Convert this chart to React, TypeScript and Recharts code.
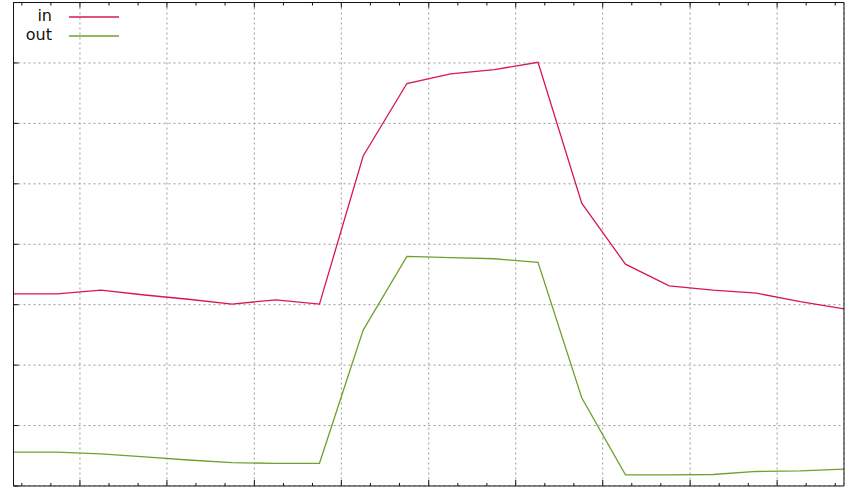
import { LineChart, Line, XAxis, YAxis, CartesianGrid } from "recharts";

// sample index along the x axis
const samples = [0, 1, 2, 3, 4, 5, 6, 7, 8, 9, 10, 11, 12, 13, 14, 15, 16, 17, 18, 19];

const inValues = [
  3.18, 3.18, 3.24, 3.16, 3.09, 3.01, 3.08, 3.01, 5.46, 6.66,
  6.82, 6.89, 7.01, 4.68, 3.67, 3.31, 3.24, 3.19, 3.05, 2.93,
];
const outValues = [
  0.56, 0.56, 0.53, 0.48, 0.43, 0.385, 0.375, 0.375, 2.58, 3.8,
  3.78, 3.76, 3.7, 1.46, 0.185, 0.185, 0.19, 0.24, 0.25, 0.28,
];

const majorTicks = [1.52, 3.51, 5.51, 7.5, 9.5, 11.49, 13.48, 15.48, 17.47];
const minorTicks = [
  0.19, 0.855, 2.185, 2.85, 4.175, 4.84, 6.175, 6.84, 8.165, 8.83,
  10.165, 10.83, 12.155, 12.82, 14.145, 14.81, 16.145, 16.81, 18.135, 18.8,
];
const yTicks = [0, 1, 2, 3, 4, 5, 6, 7, 8];

const IN_COLOR = "#d6194a";
const OUT_COLOR = "#6ea12e";
const FRAME = "#111";
const THIN = 0.01; // axes of size 0 are not drawn at all

const data = samples.map((x, i) => ({ x, in: inValues[i], out: outValues[i] }));

// inward tick marks, gnuplot style
function tickMark(dx: number, dy: number) {
  return (props: any) => {
    const { x, y } = props;
    return (
      <line x1={x} y1={y} x2={x + dx} y2={y + dy} stroke={FRAME} strokeWidth={1} />
    );
  };
}

export default function App() {
  return (
    <div style={{ position: "absolute", left: 0, top: 0, width: 854, height: 488, background: "#fff" }}>
      <LineChart
        width={854}
        height={488}
        data={data}
        margin={{ top: 2.5, right: 10, bottom: 2, left: 13.5 }}
      >
        <CartesianGrid
          xAxisId="major"
          yAxisId="left"
          stroke="#9a9a9a"
          strokeDasharray="2 3"
        />
        <XAxis
          xAxisId="major"
          dataKey="x"
          type="number"
          domain={[0, 19]}
          ticks={majorTicks}
          interval={0}
          height={THIN}
          tickSize={0}
          tickMargin={0}
          tickLine={false}
          axisLine={{ stroke: FRAME }}
          tick={tickMark(0, -6)}
        />
        <XAxis
          xAxisId="minor"
          dataKey="x"
          type="number"
          domain={[0, 19]}
          ticks={minorTicks}
          interval={0}
          height={THIN}
          tickSize={0}
          tickMargin={0}
          tickLine={false}
          axisLine={false}
          tick={tickMark(0, -3)}
        />
        <XAxis
          xAxisId="topMajor"
          orientation="top"
          dataKey="x"
          type="number"
          domain={[0, 19]}
          ticks={majorTicks}
          interval={0}
          height={THIN}
          tickSize={0}
          tickMargin={0}
          tickLine={false}
          axisLine={{ stroke: FRAME }}
          tick={tickMark(0, 5)}
        />
        <XAxis
          xAxisId="topMinor"
          orientation="top"
          dataKey="x"
          type="number"
          domain={[0, 19]}
          ticks={minorTicks}
          interval={0}
          height={THIN}
          tickSize={0}
          tickMargin={0}
          tickLine={false}
          axisLine={false}
          tick={tickMark(0, 3)}
        />
        <YAxis
          yAxisId="left"
          type="number"
          domain={[0, 8]}
          ticks={yTicks}
          interval={0}
          width={THIN}
          tickSize={0}
          tickMargin={0}
          tickLine={false}
          axisLine={{ stroke: FRAME }}
          tick={tickMark(5, 0)}
        />
        <YAxis
          yAxisId="right"
          orientation="right"
          type="number"
          domain={[0, 8]}
          ticks={yTicks}
          interval={0}
          width={THIN}
          tickSize={0}
          tickMargin={0}
          tickLine={false}
          axisLine={{ stroke: FRAME }}
          tick={tickMark(-5, 0)}
        />
        <Line
          xAxisId="major"
          yAxisId="left"
          type="linear"
          dataKey="in"
          stroke={IN_COLOR}
          strokeWidth={1.3}
          dot={false}
          isAnimationActive={false}
        />
        <Line
          xAxisId="major"
          yAxisId="left"
          type="linear"
          dataKey="out"
          stroke={OUT_COLOR}
          strokeWidth={1.3}
          dot={false}
          isAnimationActive={false}
        />
      </LineChart>

      {/* Key */}
      <svg
        width={140}
        height={50}
        style={{ position: "absolute", left: 0, top: 0, fontFamily: "DejaVu Sans", fontSize: 16 }}
      >
        <text x={52} y={21} textAnchor="end" fill="#111">in</text>
        <line x1={69} x2={119} y1={17} y2={17} stroke={IN_COLOR} strokeWidth={1.3} />
        <text x={52} y={40} textAnchor="end" fill="#111">out</text>
        <line x1={69} x2={119} y1={36} y2={36} stroke={OUT_COLOR} strokeWidth={1.3} />
      </svg>
    </div>
  );
}
